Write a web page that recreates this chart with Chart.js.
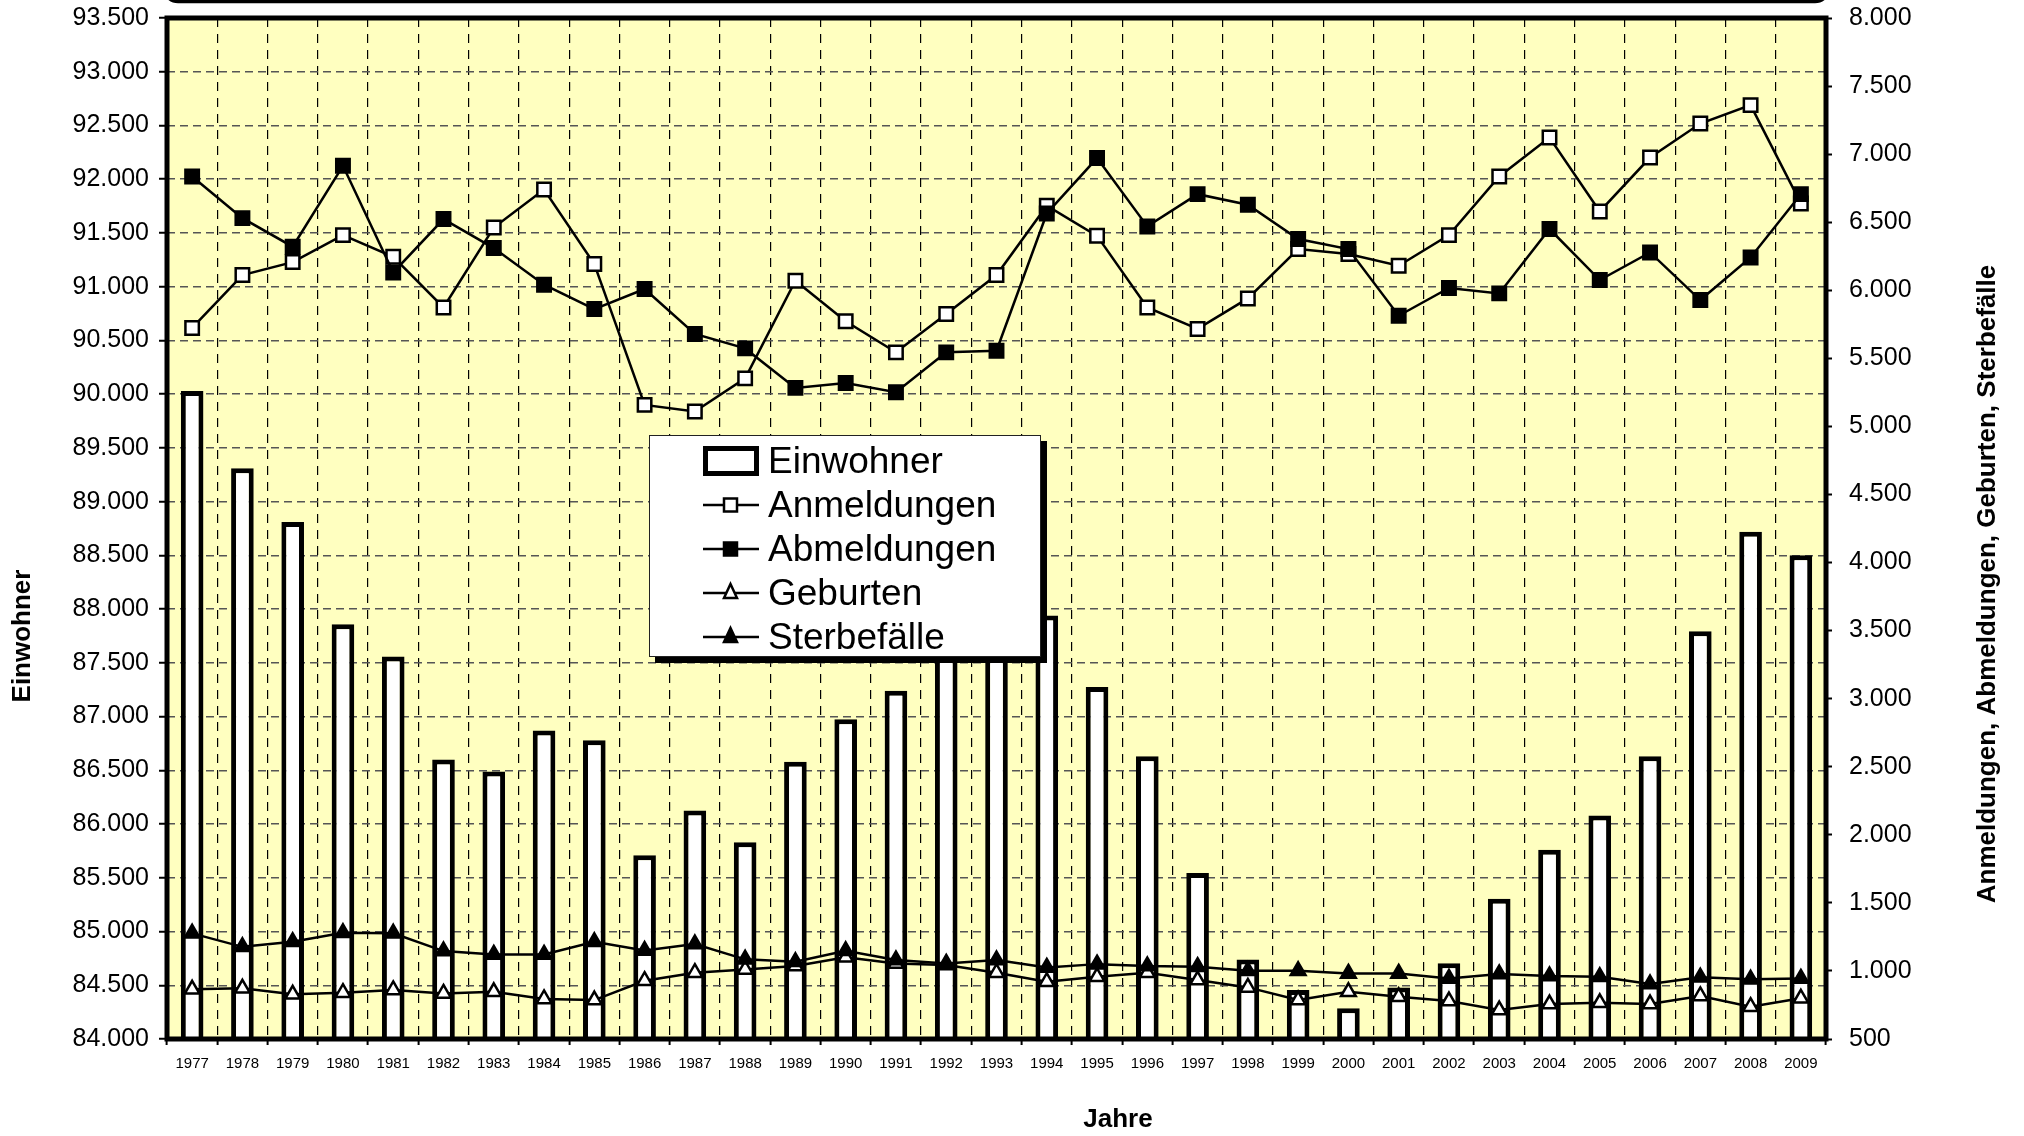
<!DOCTYPE html>
<html lang="de">
<head>
<meta charset="utf-8">
<title>Einwohner, Anmeldungen, Abmeldungen, Geburten, Sterbefälle 1977–2009</title>
<script src="https://cdn.jsdelivr.net/npm/chart.js@4.4.1/dist/chart.umd.min.js"></script>
<style>
  html, body { margin: 0; padding: 0; background: #fff; }
  #wrap { position: relative; width: 2024px; height: 1136px; }
  #legend {
    position: absolute; left: 649px; top: 435px; width: 390px; height: 220px;
    background: #fff; border: 1.5px solid #222; box-shadow: 6px 6px 0 #000;
    font-family: "Liberation Sans", Arial, sans-serif; font-size: 37px; color: #000;
  }
  .row { position: absolute; left: 53px; height: 44px; display: flex; align-items: center; white-space: nowrap; }
  .row svg { width: 56px; height: 30px; margin-right: 9px; flex: none; }
</style>
</head>
<body>
<div id="wrap">
  <canvas id="chart" width="2024" height="1136"></canvas>
  <div id="legend">
    <div class="row" style="top:3px">
      <svg viewBox="0 0 56 30"><rect x="2.5" y="2.5" width="51" height="25" fill="#fff" stroke="#000" stroke-width="5"/></svg>Einwohner
    </div>
    <div class="row" style="top:47px">
      <svg viewBox="0 0 56 30"><line x1="0" y1="15" x2="56" y2="15" stroke="#000" stroke-width="2.5"/><rect x="21" y="8.5" width="13" height="13" fill="#fff" stroke="#000" stroke-width="2.5"/></svg>Anmeldungen
    </div>
    <div class="row" style="top:91px">
      <svg viewBox="0 0 56 30"><line x1="0" y1="15" x2="56" y2="15" stroke="#000" stroke-width="2.5"/><rect x="21" y="8.5" width="13" height="13" fill="#000" stroke="#000" stroke-width="2.5"/></svg>Abmeldungen
    </div>
    <div class="row" style="top:135px">
      <svg viewBox="0 0 56 30"><line x1="0" y1="15" x2="56" y2="15" stroke="#000" stroke-width="2.5"/><polygon points="27.5,6 34,20 21,20" fill="#fff" stroke="#000" stroke-width="2.5"/></svg>Geburten
    </div>
    <div class="row" style="top:179px">
      <svg viewBox="0 0 56 30"><line x1="0" y1="15" x2="56" y2="15" stroke="#000" stroke-width="2.5"/><polygon points="27.5,6 34,20 21,20" fill="#000" stroke="#000" stroke-width="2.5"/></svg>Sterbefälle
    </div>
  </div>
</div>
<script>
// Werte
const years = ['1977', '1978', '1979', '1980', '1981', '1982', '1983', '1984', '1985', '1986', '1987',
  '1988', '1989', '1990', '1991', '1992', '1993', '1994', '1995', '1996', '1997', '1998',
  '1999', '2000', '2001', '2002', '2003', '2004', '2005', '2006', '2007', '2008', '2009'];

const einwohner = [90030, 89310, 88810, 87860, 87560, 86600, 86490, 86870, 86780, 85710, 86125,
  85830, 86580, 86975, 87240, 87630, 87800, 87940, 87275, 86630, 85545, 84740,
  84455, 84285, 84480, 84705, 85305, 85760, 86080, 86630, 87795, 88720, 88500];

const anmeldungen = [5723, 6112, 6207, 6405, 6246, 5874, 6461, 6740, 6193, 5158, 5109,
  5353, 6070, 5772, 5544, 5826, 6112, 6621, 6400, 5874, 5716, 5940,
  6303, 6266, 6180, 6405, 6836, 7122, 6579, 6975, 7225, 7360, 6638];

const abmeldungen = [6836, 6530, 6320, 6914, 6131, 6523, 6310, 6041, 5862, 6009, 5679,
  5573, 5283, 5319, 5251, 5544, 5556, 6564, 6971, 6469, 6706, 6628,
  6376, 6303, 5813, 6017, 5977, 6450, 6075, 6278, 5928, 6241, 6706];

const geburten = [865, 872, 828, 840, 860, 835, 847, 794, 786, 928, 987,
  1011, 1036, 1100, 1055, 1043, 987, 921, 957, 987, 933, 879,
  786, 847, 810, 779, 713, 757, 766, 757, 816, 737, 799];

const sterbefaelle = [1276, 1177, 1214, 1280, 1276, 1146, 1121, 1121, 1214, 1150, 1197,
  1085, 1067, 1148, 1080, 1055, 1080, 1026, 1050, 1036, 1031, 1001,
  1001, 982, 982, 945, 977, 962, 957, 904, 953, 938, 945];

const FONT = '"Liberation Sans", Arial, sans-serif';
const fmt = v => String(v).replace(/\B(?=(\d{3})+(?!\d))/g, '.');

// Achsen sollen keinen Extra-Rand für halbe Beschriftungen erzwingen
const noPad = s => { s.paddingTop = 0; s.paddingBottom = 0; s.paddingLeft = 0; s.paddingRight = 0; };

// Hintergrund, Rahmen und Achsentitel
const frame = {
  id: 'frame',
  beforeDraw(chart) {
    const { ctx, chartArea: a } = chart;
    ctx.save();
    ctx.fillStyle = '#fff';
    ctx.fillRect(0, 0, chart.width, chart.height);
    ctx.fillStyle = '#ffffc0';
    ctx.fillRect(a.left, a.top, a.right - a.left, a.bottom - a.top);
    ctx.restore();
  },
  afterDatasetsDraw(chart) {
    const { ctx, chartArea: a } = chart;
    ctx.save();
    ctx.strokeStyle = '#000';
    ctx.lineWidth = 5;
    ctx.strokeRect(a.left, a.top, a.right - a.left, a.bottom - a.top);

    // Rest des abgerundeten Rahmens oben
    ctx.lineWidth = 3.5;
    ctx.beginPath();
    ctx.moveTo(a.left - 3, -20);
    ctx.arcTo(a.left - 3, 1.5, a.left + 12, 1.5, 14);
    ctx.arcTo(a.right + 3, 1.5, a.right + 3, -20, 14);
    ctx.lineTo(a.right + 3, -20);
    ctx.stroke();

    ctx.fillStyle = '#000';
    ctx.font = 'bold 26px ' + FONT;
    ctx.textAlign = 'center';
    ctx.textBaseline = 'middle';
    ctx.fillText('Jahre', 1118, 1120);

    ctx.translate(23, 636);
    ctx.rotate(-Math.PI / 2);
    ctx.fillText('Einwohner', 0, 0);
    ctx.setTransform(1, 0, 0, 1, 0, 0);

    ctx.translate(1988, 584);
    ctx.rotate(-Math.PI / 2);
    ctx.fillText('Anmeldungen, Abmeldungen, Geburten, Sterbefälle', 0, 0);
    ctx.restore();
  }
};

const lineSet = (label, data, style, fill, radius, order) => ({
  type: 'line',
  label: label,
  data: data,
  yAxisID: 'y1',
  borderColor: '#000',
  borderWidth: 2.5,
  tension: 0,
  pointStyle: style,
  pointRadius: radius,
  pointBackgroundColor: fill,
  pointBorderColor: '#000',
  pointBorderWidth: 2.5,
  order: order
});

new Chart(document.getElementById('chart'), {
  type: 'bar',
  data: {
    labels: years,
    datasets: [
      lineSet('Anmeldungen', anmeldungen, 'rect', '#fff', 9.5, 2),
      lineSet('Abmeldungen', abmeldungen, 'rect', '#000', 9.5, 1),
      lineSet('Geburten', geburten, 'triangle', '#fff', 8.5, 4),
      lineSet('Sterbefälle', sterbefaelle, 'triangle', '#000', 8.5, 3),
      {
        type: 'bar',
        label: 'Einwohner',
        data: einwohner,
        yAxisID: 'y',
        backgroundColor: '#fff',
        borderColor: '#000',
        borderWidth: 5,
        barPercentage: 0.45,
        categoryPercentage: 1,
        order: 10
      }
    ]
  },
  options: {
    responsive: false,
    animation: false,
    devicePixelRatio: 1,
    layout: { padding: { top: 18, left: 0, right: 0, bottom: 0 } },
    plugins: { legend: { display: false }, tooltip: { enabled: false } },
    scales: {
      x: {
        offset: true,
        grid: { offset: true, color: '#000', lineWidth: 1.2, tickLength: 6, tickColor: '#000', tickWidth: 2, tickBorderDash: [] },
        border: { display: false, dash: [9, 7] },
        ticks: { color: '#000', font: { family: FONT, size: 15 }, padding: 10, maxRotation: 0, autoSkip: false },
        afterFit: s => { s.height = 97; noPad(s); }
      },
      y: {
        position: 'left',
        min: 84000,
        max: 93500,
        ticks: { stepSize: 500, color: '#000', font: { family: FONT, size: 25 }, padding: 10, callback: v => fmt(v) },
        grid: { color: '#555', lineWidth: 1.5, tickLength: 8, tickColor: '#000', tickWidth: 2, tickBorderDash: [] },
        border: { display: false, dash: [8, 5] },
        afterFit: s => { s.width = 167; noPad(s); }
      },
      y1: {
        position: 'right',
        min: 500,
        max: 8000,
        ticks: { stepSize: 500, color: '#000', font: { family: FONT, size: 25 }, padding: 17, callback: v => fmt(v) },
        grid: { drawOnChartArea: false, tickLength: 6, tickColor: '#000', tickWidth: 2, tickBorderDash: [] },
        border: { display: false },
        afterFit: s => { s.width = 198; noPad(s); }
      }
    }
  },
  plugins: [frame]
});
</script>
</body>
</html>
